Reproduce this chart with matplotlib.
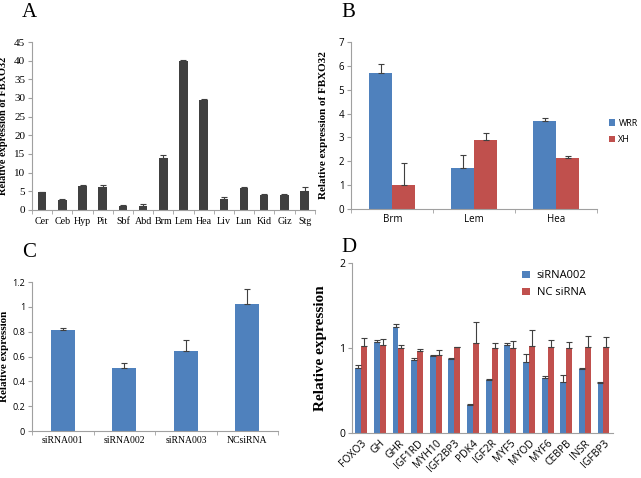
import numpy as np
import matplotlib.pyplot as plt

# Panel A
tissues = ["Cer", "Ceb", "Hyp", "Pit", "Sbf", "Abd", "Brm", "Lem", "Hea", "Liv", "Lun", "Kid", "Giz", "Stg"]
tissue_expr = [4.7, 2.7, 6.4, 6.2, 0.9, 0.9, 13.9, 39.8, 29.4, 2.9, 5.8, 4.1, 3.9, 5.0]
tissue_err = [0.2, 0.3, 0.3, 0.4, 0.4, 0.7, 0.8, 0.4, 0.2, 0.6, 0.2, 0.2, 0.4, 1.1]

# Panel B
muscles = ["Brm", "Lem", "Hea"]
wrr = [5.7, 1.73, 3.7]
wrr_err = [0.4, 0.55, 0.1]
xh = [1.0, 2.87, 2.12]
xh_err = [0.93, 0.3, 0.12]

# Panel C
sirnas = ["siRNA001", "siRNA002", "siRNA003", "NCsiRNA"]
sirna_expr = [0.815, 0.51, 0.645, 1.02]
sirna_err = [0.015, 0.04, 0.09, 0.12]

# Panel D
genes = ["FOXO3", "GH", "GHR", "IGF1RD", "MYH10", "IGF2BP3", "PDK4", "IGF2R", "MYF5", "MYOD", "MYF6", "CEBPB", "INSR", "IGFBP3"]
si002 = [0.76, 1.07, 1.25, 0.855, 0.905, 0.87, 0.33, 0.625, 1.03, 0.83, 0.65, 0.6, 0.75, 0.59]
si002_err = [0.04, 0.02, 0.03, 0.03, 0.01, 0.01, 0.01, 0.01, 0.03, 0.1, 0.02, 0.08, 0.01, 0.005]
nc = [1.02, 1.03, 1.0, 0.96, 0.92, 1.01, 1.055, 1.0, 1.0, 1.025, 1.015, 1.0, 1.015, 1.015]
nc_err = [0.1, 0.07, 0.04, 0.03, 0.06, 0.005, 0.25, 0.06, 0.08, 0.19, 0.08, 0.07, 0.12, 0.11]

blue = "#4f81bd"
red = "#c0504d"
dark = "#404040"
serif = "Liberation Serif"
sans = "Open Sans"

fig = plt.figure(figsize=(6.41, 4.78), dpi=100)

def style(ax, n):
    for s in ["top", "right"]:
        ax.spines[s].set_visible(False)
    for s in ["left", "bottom"]:
        ax.spines[s].set_color("#a0a0a0")
        ax.spines[s].set_linewidth(0.8)
    ax.set_xlim(-0.5, n - 0.5)
    ax.set_xticks(np.arange(n))
    ax.set_xticks(np.arange(n + 1) - 0.5, minor=True)
    ax.tick_params(axis="x", which="major", length=0)
    ax.tick_params(axis="x", which="minor", length=3, color="#a0a0a0")
    ax.tick_params(axis="y", length=3, color="#a0a0a0", pad=2)

ek = dict(ecolor="#404040", elinewidth=0.8, capsize=2, capthick=0.8)

# A
axA = fig.add_axes([0.050, 0.561, 0.441, 0.351])
x = np.arange(len(tissues))
axA.bar(x, tissue_expr, 0.42, color=dark)
axA.errorbar(x, tissue_expr, yerr=[np.zeros(len(x)), tissue_err], fmt="none", **ek)
style(axA, len(tissues))
axA.set_ylim(0, 45)
axA.set_yticks(range(0, 46, 5))
axA.set_xticklabels(tissues, fontfamily=serif, fontsize=7.2)
axA.tick_params(axis="x", pad=5)
for t in axA.get_yticklabels():
    t.set_fontfamily(serif); t.set_fontsize(8)
axA.set_ylabel("Relative expression of FBXO32", fontfamily=serif, fontsize=7.5, fontweight="bold")
axA.yaxis.set_label_coords(-0.085, 0.5)
fig.text(0.034, 0.974, "A", fontfamily=serif, fontsize=15, va="center")

# B
axB = fig.add_axes([0.548, 0.563, 0.384, 0.349])
x = np.arange(len(muscles))
w = 0.28
axB.bar(x - w / 2, wrr, w, color=blue, label="WRR")
axB.bar(x + w / 2, xh, w, color=red, label="XH")
axB.errorbar(x - w / 2, wrr, yerr=[np.zeros(3), wrr_err], fmt="none", **ek)
axB.errorbar(x + w / 2, xh, yerr=[np.zeros(3), xh_err], fmt="none", **ek)
style(axB, len(muscles))
axB.set_ylim(0, 7)
axB.set_yticks(range(0, 8))
axB.set_xticklabels(muscles, fontfamily=sans, fontsize=7)
for t in axB.get_yticklabels():
    t.set_fontfamily(sans); t.set_fontsize(7)
axB.set_ylabel("Relative expression of FBXO32", fontfamily=serif, fontsize=8, fontweight="bold")
axB.yaxis.set_label_coords(-0.095, 0.5)
axB.legend(loc="center left", bbox_to_anchor=(0.950, 0.725), bbox_transform=fig.transFigure,
           frameon=False, prop={"family": sans, "size": 6.5}, handlelength=0.7, handleheight=0.7,
           labelspacing=0.85, handletextpad=0.35, borderaxespad=0, borderpad=0)
fig.text(0.533, 0.974, "B", fontfamily=serif, fontsize=15, va="center")

# C
axC = fig.add_axes([0.050, 0.098, 0.384, 0.312])
x = np.arange(len(sirnas))
axC.bar(x, sirna_expr, 0.39, color=blue)
axC.errorbar(x, sirna_expr, yerr=[np.zeros(4), sirna_err], fmt="none", **ek)
style(axC, len(sirnas))
axC.set_ylim(0, 1.2)
axC.set_yticks([0, 0.2, 0.4, 0.6, 0.8, 1.0, 1.2])
axC.set_yticklabels(["0", "0.2", "0.4", "0.6", "0.8", "1", "1.2"], fontfamily=sans, fontsize=6.5)
axC.set_xticklabels(sirnas, fontfamily=serif, fontsize=7)
axC.set_ylabel("Relative expression", fontfamily=serif, fontsize=8, fontweight="bold")
axC.yaxis.set_label_coords(-0.095, 0.5)
fig.text(0.034, 0.472, "C", fontfamily=serif, fontsize=15, va="center")

# D
axD = fig.add_axes([0.549, 0.094, 0.407, 0.356])
x = np.arange(len(genes))
w = 0.32
axD.bar(x - w / 2, si002, w, color=blue, label="siRNA002")
axD.bar(x + w / 2, nc, w, color=red, label="NC siRNA")
axD.errorbar(x - w / 2, si002, yerr=[np.zeros(len(x)), si002_err], fmt="none", **ek)
axD.errorbar(x + w / 2, nc, yerr=[np.zeros(len(x)), nc_err], fmt="none", **ek)
style(axD, len(genes))
axD.tick_params(axis="x", which="minor", length=0)
axD.set_ylim(0, 2)
axD.set_yticks([0, 1, 2])
axD.set_xticklabels(genes, fontfamily=sans, fontsize=7.5, rotation=45, ha="right", rotation_mode="anchor")
for t in axD.get_yticklabels():
    t.set_fontfamily(sans); t.set_fontsize(7.5)
axD.set_ylabel("Relative expression", fontfamily=serif, fontsize=11, fontweight="bold")
axD.yaxis.set_label_coords(-0.095, 0.5)
axD.legend(loc="center left", bbox_to_anchor=(0.815, 0.405), bbox_transform=fig.transFigure,
           frameon=False, prop={"family": sans, "size": 8}, handlelength=0.7, handleheight=0.7,
           labelspacing=0.55, handletextpad=0.6, borderaxespad=0, borderpad=0)
fig.text(0.533, 0.483, "D", fontfamily=serif, fontsize=15, va="center")

fig.savefig("out.png", dpi=100)
